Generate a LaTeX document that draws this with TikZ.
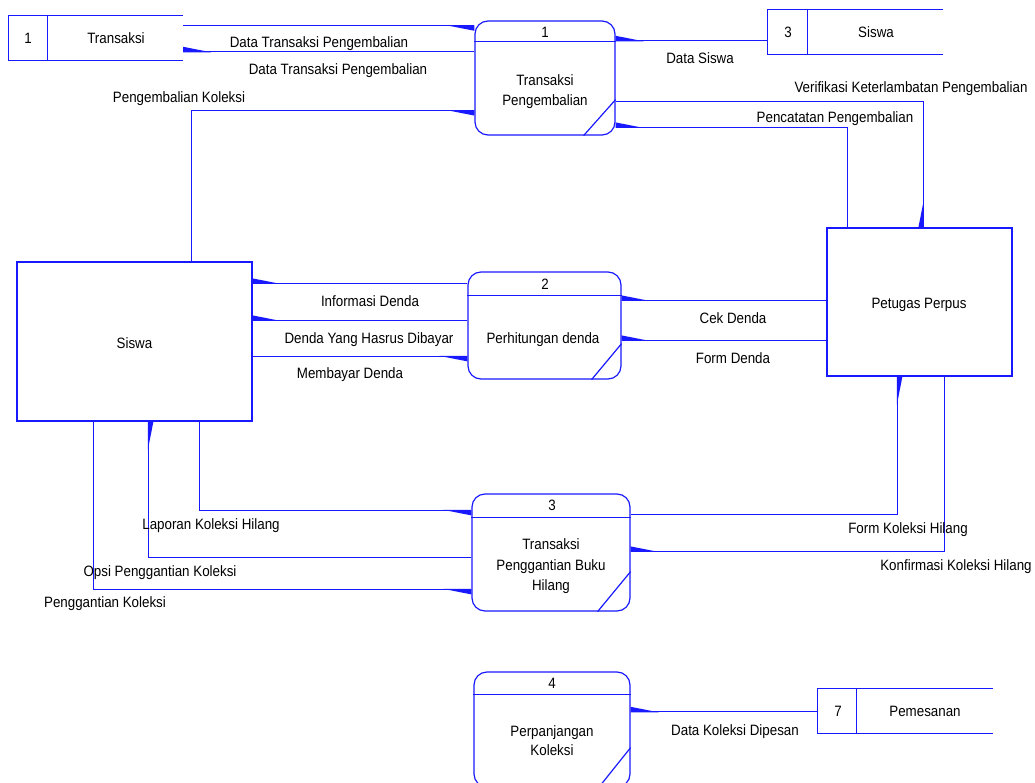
\documentclass[tikz,border=0pt]{standalone}
\usepackage{fontspec}
\setmainfont{Liberation Sans}[FakeStretch=0.89]
\usetikzlibrary{arrows.meta,calc}
\definecolor{dfdblue}{RGB}{25,25,255}
\pgfdeclarearrow{
  name = Wedge,
  setup code = {
    \pgfarrowssettipend{0pt}
    \pgfarrowssetlineend{0pt}
    \pgfarrowssetbackend{-28pt}
    \pgfarrowssetvisualbackend{-28pt}
    \pgfarrowshullpoint{0pt}{0.5pt}
    \pgfarrowshullpoint{-28pt}{0.5pt}
    \pgfarrowshullpoint{0pt}{-5pt}
  },
  drawing code = {
    \pgfpathmoveto{\pgfqpoint{0pt}{0.5pt}}
    \pgfpathlineto{\pgfqpoint{-28pt}{0.5pt}}
    \pgfpathlineto{\pgfqpoint{0pt}{-5pt}}
    \pgfpathclose
    \pgfusepathqfill
  }
}
\begin{document}
\begin{tikzpicture}[x=1pt,y=-1pt,
  every node/.style={font=\fontsize{15}{18}\selectfont},
  ln/.style={draw=dfdblue,line width=1.2pt},
  flow/.style={ln,-{Wedge}},
  proc/.style={ln,rectangle,rounded corners=13pt,inner sep=0pt},
  ent/.style={ln,rectangle,inner sep=0pt},
  ghost/.style={rectangle,inner sep=0pt,draw=none},
  lbl/.style={inner sep=0pt,text height=10.7pt,text depth=0pt}]
\useasboundingbox (0,0) rectangle (1035,783);

% ---------- data stores ----------
\node[ghost,minimum width=174pt,minimum height=44pt] (s1) at (96,38) {};
\draw[ln] (s1.north east) -- (s1.north west) -- (s1.south west) -- (s1.south east);
\draw[ln] ($(s1.north west)+(39,0)$) -- ($(s1.south west)+(39,0)$);
\node[lbl] (s1n) at (28,38) {1};
\node[lbl] (s1t) at (116,38) {Transaksi};

\node[ghost,minimum width=175pt,minimum height=44pt] (s3) at (855.5,32) {};
\draw[ln] (s3.north east) -- (s3.north west) -- (s3.south west) -- (s3.south east);
\draw[ln] ($(s3.north west)+(40,0)$) -- ($(s3.south west)+(40,0)$);
\node[lbl] (s3n) at (788,32) {3};
\node[lbl] (s3t) at (876,32) {Siswa};

\node[ghost,minimum width=175pt,minimum height=44pt] (s7) at (905.5,711) {};
\draw[ln] (s7.north east) -- (s7.north west) -- (s7.south west) -- (s7.south east);
\draw[ln] ($(s7.north west)+(39,0)$) -- ($(s7.south west)+(39,0)$);
\node[lbl] (s7n) at (838,711) {7};
\node[lbl] (s7t) at (925,711) {Pemesanan};

% ---------- external entities ----------
\node[ent,minimum width=235pt,minimum height=159pt] (sw) at (134.5,341.5) {};
\node[lbl] (swt) at (134.5,343) {Siswa};
\node[ent,minimum width=185pt,minimum height=148pt] (pp) at (919.5,302) {};
\node[lbl] (ppt) at (919,303) {Petugas Perpus};

% ---------- processes ----------
\node[proc,minimum width=140pt,minimum height=114pt] (p1) at (545,78) {};
\draw[ln] ($(p1.north west)+(0,21)$) -- ($(p1.north east)+(0,21)$);
\draw[ln] ($(p1.south east)+(0,-36)$) -- ($(p1.south east)+(-32,0)$);
\node[lbl] (p1n) at (545,32) {1};
\node[lbl] (p1a) at (545,80) {Transaksi};
\node[lbl] (p1b) at (545,100) {Pengembalian};

\node[proc,minimum width=153pt,minimum height=107pt] (p2) at (544.5,325.5) {};
\draw[ln] ($(p2.north west)+(0,24)$) -- ($(p2.north east)+(0,24)$);
\draw[ln] ($(p2.south east)+(0,-36)$) -- ($(p2.south east)+(-30,0)$);
\node[lbl] (p2n) at (545,284) {2};
\node[lbl] (p2a) at (543,338) {Perhitungan denda};

\node[proc,minimum width=158pt,minimum height=117pt] (p3) at (551,552.5) {};
\draw[ln] ($(p3.north west)+(0,24)$) -- ($(p3.north east)+(0,24)$);
\draw[ln] ($(p3.south east)+(0,-40)$) -- ($(p3.south east)+(-33,0)$);
\node[lbl] (p3n) at (552,505) {3};
\node[lbl] (p3a) at (551,544) {Transaksi};
\node[lbl] (p3b) at (551,565) {Penggantian Buku};
\node[lbl] (p3c) at (551,585) {Hilang};

\node[proc,minimum width=156pt,minimum height=115pt] (p4) at (552,729.5) {};
\draw[ln] ($(p4.north west)+(0,23)$) -- ($(p4.north east)+(0,23)$);
\draw[ln] ($(p4.south east)+(0,-40)$) -- ($(p4.south east)+(-32,0)$);
\node[lbl] (p4n) at (552,683) {4};
\node[lbl] (p4a) at (552,731) {Perpanjangan};
\node[lbl] (p4b) at (552,750) {Koleksi};

% ---------- connector points ----------
\coordinate (c1) at ($(s1.north east)+(0,10)$);
\coordinate (c2) at ($(s1.north east)+(0,36)$);
\coordinate (c3) at ($(sw.north west)+(175,0)$);
\coordinate (c3b) at ($(p1.south west)+(0,-25)$);
\coordinate (c4) at ($(s3.north west)+(0,31)$);
\coordinate (c5) at ($(p1.north east)+(0,81)$);
\coordinate (c5b) at ($(pp.north west)+(97,0)$);
\coordinate (c6) at ($(pp.north west)+(21,0)$);
\coordinate (c6b) at ($(p1.north east)+(0,107)$);
\coordinate (c7) at ($(p2.north west)+(0,12)$);
\coordinate (c8) at ($(p2.north west)+(0,49)$);
\coordinate (c9) at ($(sw.north east)+(0,95)$);
\coordinate (c10) at ($(pp.north west)+(0,73)$);
\coordinate (c11) at ($(pp.north west)+(0,113)$);
\coordinate (c12) at ($(sw.south west)+(183,0)$);
\coordinate (c12b) at ($(p3.north west)+(0,17)$);
\coordinate (c13) at ($(p3.north west)+(0,64)$);
\coordinate (c13b) at ($(sw.south west)+(132,0)$);
\coordinate (c14) at ($(sw.south west)+(77,0)$);
\coordinate (c14b) at ($(p3.north west)+(0,96)$);
\coordinate (c15) at ($(p3.north east)+(0,21)$);
\coordinate (c15b) at ($(pp.south west)+(71,0)$);
\coordinate (c16) at ($(pp.south west)+(118,0)$);
\coordinate (c16b) at ($(p3.north east)+(0,58)$);
\coordinate (c17) at ($(s7.north west)+(0,23)$);

% ---------- flows ----------
\draw[flow] (c1) -- (c1 -| p1.west);
\draw[flow] (c2 -| p1.west) -- (c2);
\draw[flow] (c3) -- (c3 |- c3b) -- (c3b);
\draw[flow] (c4) -- (c4 -| p1.east);
\draw[flow] (c5) -- (c5 -| c5b) -- (c5b);
\draw[flow] (c6) -- (c6 |- c6b) -- (c6b);
\draw[flow] (c7) -- (c7 -| sw.east);
\draw[flow] (c8) -- (c8 -| sw.east);
\draw[flow] (c9) -- (c9 -| p2.west);
\draw[flow] (c10) -- (c10 -| p2.east);
\draw[flow] (c11) -- (c11 -| p2.east);
\draw[flow] (c12) -- (c12 |- c12b) -- (c12b);
\draw[flow] (c13) -- (c13 -| c13b) -- (c13b);
\draw[flow] (c14) -- (c14 |- c14b) -- (c14b);
\draw[flow] (c15) -- (c15 -| c15b) -- (c15b);
\draw[flow] (c16) -- (c16 |- c16b) -- (c16b);
\draw[flow] (c17) -- (c17 -| p4.east);

% ---------- flow labels ----------
\node[lbl] (l1) at (319,42) {Data Transaksi Pengembalian};
\node[lbl] (l2) at (338,69) {Data Transaksi Pengembalian};
\node[lbl] (l3) at (179,97) {Pengembalian Koleksi};
\node[lbl] (l4) at (700,58) {Data Siswa};
\node[lbl] (l5) at (911,87) {Verifikasi Keterlambatan Pengembalian};
\node[lbl] (l6) at (835,117) {Pencatatan Pengembalian};
\node[lbl] (l7) at (370,301) {Informasi Denda};
\node[lbl] (l8) at (369,338) {Denda Yang Hasrus Dibayar};
\node[lbl] (l9) at (350,373) {Membayar Denda};
\node[lbl] (l10) at (733,318) {Cek Denda};
\node[lbl] (l11) at (733,358) {Form Denda};
\node[lbl] (l12) at (211,524) {Laporan Koleksi Hilang};
\node[lbl] (l13) at (160,571) {Opsi Penggantian Koleksi};
\node[lbl] (l14) at (105,602) {Penggantian Koleksi};
\node[lbl] (l15) at (908,528) {Form Koleksi Hilang};
\node[lbl] (l16) at (956,565) {Konfirmasi Koleksi Hilang};
\node[lbl] (l17) at (735,730) {Data Koleksi Dipesan};
\end{tikzpicture}
\end{document}
